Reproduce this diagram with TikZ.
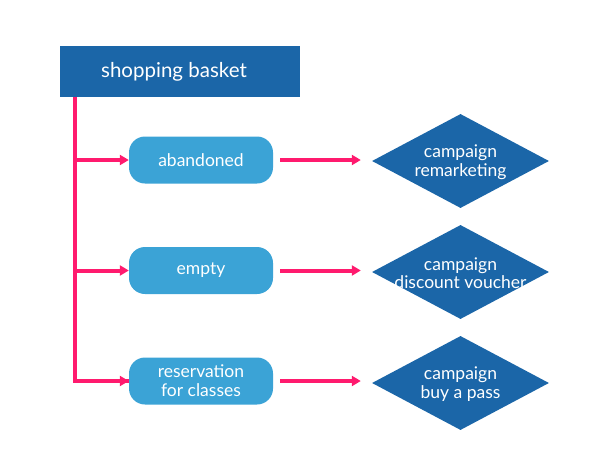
\documentclass[tikz,border=0pt]{standalone}
\usepackage{fontspec}
\setmainfont{Lato}
\usetikzlibrary{shapes.geometric,arrows.meta}
\definecolor{dblue}{HTML}{1B66A8}
\definecolor{lblue}{HTML}{3BA3D6}
\definecolor{pink}{HTML}{FF1A6E}
\tikzset{
  topbox/.style={fill=dblue,draw=none,minimum width=240pt,minimum height=51pt,inner sep=0pt},
  toptext/.style={text=white,font=\fontsize{20.5}{22}\selectfont,xshift=-6pt},
  rbox/.style={fill=lblue,draw=none,rounded corners=16pt,minimum width=144pt,minimum height=47pt,text=white,font=\fontsize{17.5}{19}\selectfont,align=center,inner sep=0pt},
  dia/.style={diamond,fill=dblue,draw=none,minimum width=177pt,minimum height=94pt,inner sep=0pt},
  diatext/.style={text=white,font=\fontsize{17.5}{18.5}\selectfont,align=center},
  conn/.style={draw=pink,line width=4pt},
  arr/.style={conn,-{Triangle[length=9pt,width=10pt]}},
}
\begin{document}
\begin{tikzpicture}[x=1pt,y=-1pt]
\useasboundingbox (0,0) rectangle (600,450);
\node[topbox,label={[toptext]center:shopping basket}] (top) at (180,71.5) {};
\node[rbox] (b1) at (201,160) {abandoned};
\node[rbox] (b2) at (201,270.5) {empty};
\node[rbox] (b3) at (201,381) {reservation\\for classes};
\node[dia,label={[diatext,yshift=-1pt]center:{campaign\\remarketing}}] (d1) at (460.5,161) {};
\node[dia,label={[diatext,yshift=-1pt]center:{campaign\\discount voucher}}] (d2) at (460.5,272) {};
\node[dia,label={[diatext,yshift=-1pt]center:{campaign\\buy a pass}}] (d3) at (460.5,383) {};
\coordinate (v) at (75,97);
\draw[conn] (v) |- (b3.west);
\draw[arr] (v |- b1.west) -- (b1.west);
\draw[arr] (v |- b2.west) -- (b2.west);
\draw[arr] (v |- b3.west) -- (b3.west);
\draw[arr,shorten <=7pt,shorten >=11pt] (b1.east) -- (b1.east -| d1.west);
\draw[arr,shorten <=7pt,shorten >=11pt] (b2.east) -- (b2.east -| d2.west);
\draw[arr,shorten <=7pt,shorten >=11pt] (b3.east) -- (b3.east -| d3.west);
\end{tikzpicture}
\end{document}
